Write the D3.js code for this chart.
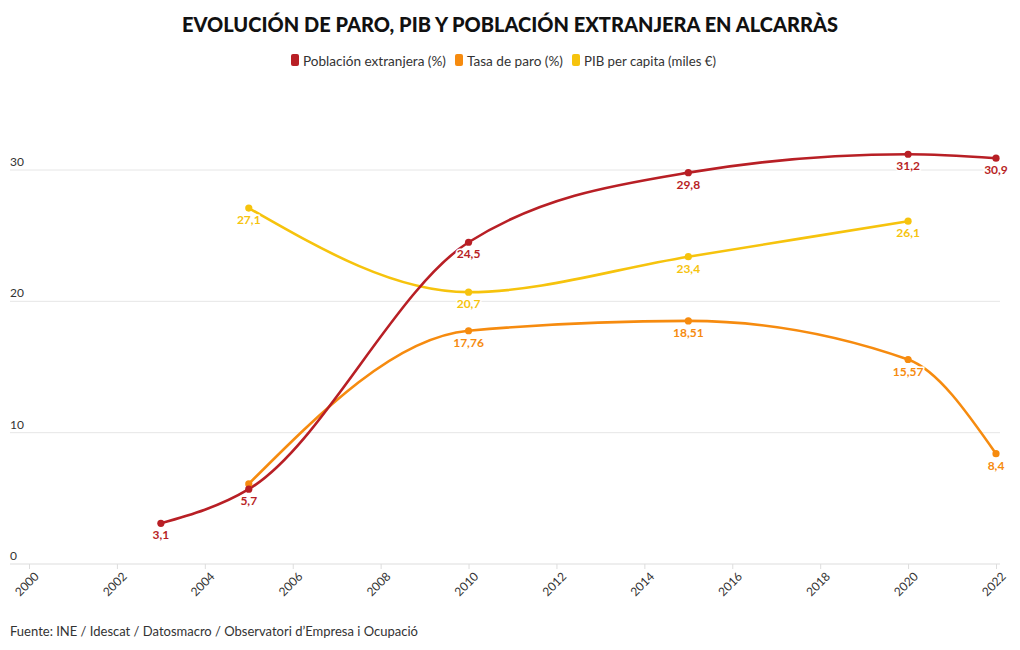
<!DOCTYPE html>
<html><head><meta charset="utf-8">
<script src="https://cdn.jsdelivr.net/npm/d3@7"></script>
<style>
body{margin:0;background:#fff;font-family:"Source Sans Pro",Lato,"Noto Sans",sans-serif;}
svg text{font-family:Lato,"Noto Sans",sans-serif;}
</style></head><body>
<svg id="c" width="1020" height="650"></svg>
<script>
const title = "EVOLUCIÓN DE PARO, PIB Y POBLACIÓN EXTRANJERA EN ALCARRÀS";
const source = "Fuente: INE / Idescat / Datosmacro / Observatori d’Empresa i Ocupació";
const seriesNames = ["Población extranjera (%)", "Tasa de paro (%)", "PIB per capita (miles €)"];
const seriesColors = ["#b81f25", "#f68b0f", "#f6c30d"];
const yearsPob = [2003, 2005, 2010, 2015, 2020, 2022];
const valuesPob = [3.1, 5.7, 24.5, 29.8, 31.2, 30.9];
const labelsPob = ["3,1", "5,7", "24,5", "29,8", "31,2", "30,9"];
const yearsParo = [2005, 2010, 2015, 2020, 2022];
const valuesParo = [6.1, 17.76, 18.51, 15.57, 8.4];
const labelsParo = ["", "17,76", "18,51", "15,57", "8,4"];
const yearsPib = [2005, 2010, 2015, 2020];
const valuesPib = [27.1, 20.7, 23.4, 26.1];
const labelsPib = ["27,1", "20,7", "23,4", "26,1"];
const xTicks = [2000, 2002, 2004, 2006, 2008, 2010, 2012, 2014, 2016, 2018, 2020, 2022];
const yTicks = [0, 10, 20, 30];

const series = [
  {name: seriesNames[0], color: seriesColors[0], data: yearsPob.map((y,i)=>({x:y, v:valuesPob[i], l:labelsPob[i]}))},
  {name: seriesNames[1], color: seriesColors[1], data: yearsParo.map((y,i)=>({x:y, v:valuesParo[i], l:labelsParo[i]}))},
  {name: seriesNames[2], color: seriesColors[2], data: yearsPib.map((y,i)=>({x:y, v:valuesPib[i], l:labelsPib[i]}))}
];

const svg = d3.select("#c");
const x = d3.scaleLinear().domain([2000, 2022]).range([29, 996]);
const y = d3.scaleLinear().domain([0, 30]).range([564, 170]);

svg.append("text").attr("x", 510).attr("y", 32).attr("text-anchor", "middle")
  .attr("font-size", 21).attr("font-weight", 900).attr("fill", "#111")
  .attr("textLength", 656).attr("lengthAdjust", "spacingAndGlyphs").text(title);

// legend
const legPos = [291, 455, 572];
const legW = [143, 96, 132];
const leg = svg.append("g");
series.forEach((s, i) => {
  const g = leg.append("g").attr("transform", `translate(${legPos[i]},60)`);
  g.append("rect").attr("x", 0).attr("y", -6).attr("width", 8).attr("height", 12).attr("rx", 2).attr("fill", s.color);
  g.append("text").attr("x", 12).attr("y", 1).attr("dy", "0.35em").attr("font-size", 13.5).attr("fill", "#333")
    .attr("textLength", legW[i]).attr("lengthAdjust", "spacingAndGlyphs").text(s.name);
});

// grid
const grid = svg.append("g");
yTicks.forEach(t => {
  grid.append("line").attr("x1", 10).attr("x2", 1000).attr("y1", y(t)).attr("y2", y(t))
    .attr("stroke", t === 0 ? "#ddd" : "#e6e6e6").attr("stroke-width", 1);
  grid.append("text").attr("x", 10).attr("y", y(t) - 4).attr("font-size", 12).attr("fill", "#333").text(t);
});

// x axis
const xa = svg.append("g").attr("transform", "translate(0,564)")
  .call(d3.axisBottom(x).tickValues(xTicks).tickFormat(d3.format("d")).tickSize(5).tickPadding(3));
xa.select(".domain").remove();
xa.selectAll(".tick line").attr("stroke", "#ddd");
xa.selectAll(".tick text").attr("font-size", 12).attr("fill", "#333")
  .attr("text-anchor", "end").attr("transform", "translate(3,6) rotate(-45)").attr("dy", "0.35em").attr("y", 6).attr("x", 0);

const line = d3.line().x(d => x(d.x)).y(d => y(d.v)).curve(d3.curveMonotoneX);

const order = [1, 2, 0];
order.forEach(i => {
  const s = series[i];
  svg.append("path").datum(s.data).attr("d", line).attr("fill", "none")
    .attr("stroke", s.color).attr("stroke-width", 2.6);
});
order.forEach(i => {
  const s = series[i];
  svg.append("g").selectAll("circle").data(s.data).join("circle")
    .attr("cx", d => x(d.x)).attr("cy", d => y(d.v)).attr("r", 3.6).attr("fill", s.color);
});
series.forEach(s => {
  svg.append("g").selectAll("text").data(s.data.filter(d => d.l)).join("text")
    .attr("x", d => x(d.x)).attr("y", d => y(d.v) + 16).attr("text-anchor", "middle")
    .attr("font-size", 12).attr("font-weight", 700).attr("fill", s.color)
    .attr("stroke", "#fff").attr("stroke-width", 3).attr("paint-order", "stroke").text(d => d.l);
});

svg.append("text").attr("x", 10).attr("y", 636).attr("font-size", 13).attr("fill", "#333").text(source);
</script></body></html>
